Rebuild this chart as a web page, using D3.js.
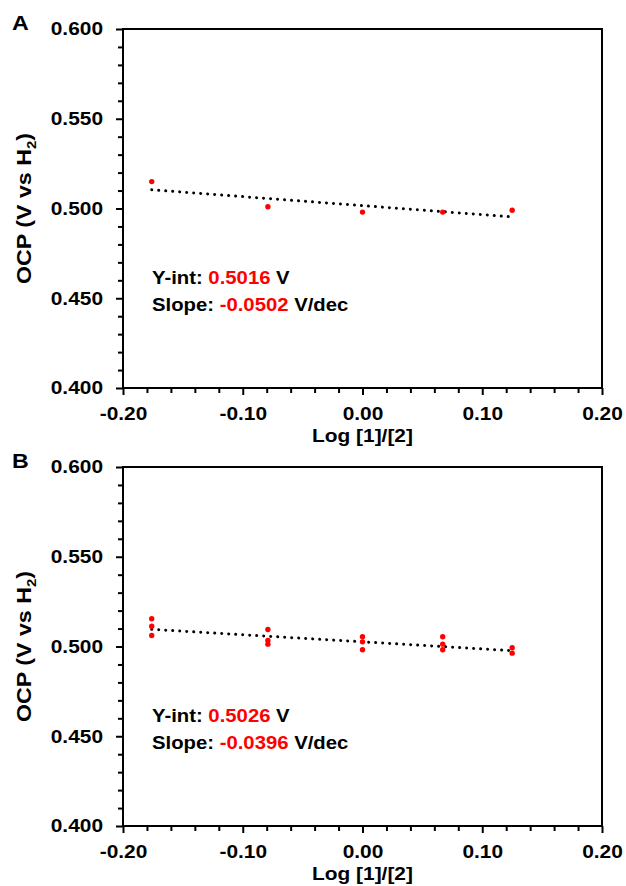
<!DOCTYPE html>
<html>
<head>
<meta charset="utf-8">
<script src="https://cdn.jsdelivr.net/npm/d3@7"></script>
<style>
body { margin: 0; background: #fff; }
text { font-family: "Liberation Sans", Arial, sans-serif; font-weight: bold; }
</style>
</head>
<body>
<script>

/* data */
var logRatioA = [-0.176, -0.079, 0.000, 0.067, 0.125];
var ocpA      = [0.515, 0.501, 0.498, 0.498, 0.499];
var fitA      = { yint: 0.5016, slope: -0.0502 };

var logRatioB = [-0.176, -0.176, -0.176, -0.079, -0.079, -0.079, 0.000, 0.000, 0.000,
                 0.067, 0.067, 0.067, 0.125, 0.125];
var ocpB      = [0.5155, 0.5113, 0.5061, 0.5095, 0.5034, 0.5013, 0.5054, 0.5026, 0.4982,
                 0.5054, 0.5013, 0.4982, 0.4993, 0.4963];
var fitB      = { yint: 0.5026, slope: -0.0396 };

var xMajor = [-0.2, -0.1, 0, 0.1, 0.2];
var yMajor = [0.400, 0.450, 0.500, 0.550, 0.600];

// plain hyphen for negatives, like the source
function fmt(p) {
  var f = d3.format("." + p + "f");
  return function(v) { return f(v).replace("\u2212", "-"); };
}

var svg = d3.select("body").append("svg")
  .attr("width", 626)
  .attr("height", 886);

function panel(letter, top, xs, ys, fit) {
  var left = 123, w = 479, h = 359;

  var x = d3.scaleLinear().domain([-0.2, 0.2]).range([left, left + w]);
  var y = d3.scaleLinear().domain([0.4, 0.6]).range([top + h, top]);

  var xMinor = d3.range(-0.2, 0.2001, 0.02).filter(function(v) {
    return Math.abs(v * 10 - Math.round(v * 10)) > 1e-6;
  });
  var yMinor = d3.range(0.4, 0.6001, 0.01).filter(function(v) {
    return Math.abs(v * 20 - Math.round(v * 20)) > 1e-6;
  });

  // minor ticks
  svg.append("g").attr("transform", "translate(0," + (top + h) + ")")
    .call(d3.axisBottom(x).tickValues(xMinor).tickSize(5).tickFormat(""))
    .call(function(g) { g.select(".domain").remove(); });
  svg.append("g").attr("transform", "translate(" + left + ",0)")
    .call(d3.axisLeft(y).tickValues(yMinor).tickSize(5).tickFormat(""))
    .call(function(g) { g.select(".domain").remove(); });

  // major ticks + labels
  var gx = svg.append("g").attr("transform", "translate(0," + (top + h) + ")")
    .call(d3.axisBottom(x).tickValues(xMajor).tickSize(7).tickPadding(12).tickFormat(fmt(2)));
  gx.select(".domain").remove();
  gx.selectAll("text").attr("class", "wide").attr("font-size", 18).attr("fill", "#000");

  var gy = svg.append("g").attr("transform", "translate(" + left + ",0)")
    .call(d3.axisLeft(y).tickValues(yMajor).tickSize(7).tickPadding(13).tickFormat(fmt(3)));
  gy.select(".domain").remove();
  gy.selectAll("text").attr("class", "wide").attr("font-size", 18).attr("fill", "#000");

  svg.selectAll(".tick line").attr("stroke", "#000").attr("stroke-width", 2);

  // frame
  svg.append("rect")
    .attr("x", left).attr("y", top)
    .attr("width", w).attr("height", h)
    .attr("fill", "none").attr("stroke", "#000").attr("stroke-width", 2);

  // dotted trendline
  var x0 = d3.min(xs), x1 = d3.max(xs);
  svg.append("line")
    .attr("x1", x(x0)).attr("y1", y(fit.yint + fit.slope * x0))
    .attr("x2", x(x1)).attr("y2", y(fit.yint + fit.slope * x1))
    .attr("stroke", "#000").attr("stroke-width", 3)
    .attr("stroke-linecap", "round").attr("stroke-dasharray", "0.01 7");

  // points
  svg.append("g").selectAll("circle")
    .data(xs.map(function(v, i) { return [v, ys[i]]; }))
    .enter().append("circle")
    .attr("cx", function(d) { return x(d[0]); })
    .attr("cy", function(d) { return y(d[1]); })
    .attr("r", 2.7)
    .attr("fill", "#ff0000");

  // panel letter
  svg.append("text").attr("class", "wide")
    .attr("x", 12).attr("y", top + 1)
    .attr("font-size", 20)
    .text(letter);

  // axis titles
  var yl = svg.append("text").attr("class", "wide")
    .attr("transform", "translate(31," + (top + h / 2) + ") rotate(-90)")
    .attr("text-anchor", "middle")
    .attr("font-size", 20);
  yl.append("tspan").text("OCP (V vs H");
  yl.append("tspan").attr("font-size", 13).attr("dy", 5).text("2");
  yl.append("tspan").attr("dy", -5).text(")");

  svg.append("text").attr("class", "wide")
    .attr("x", x(0)).attr("y", top + 413)
    .attr("text-anchor", "middle")
    .attr("font-size", 18)
    .text("Log [1]/[2]");

  // fit annotation
  var t1 = svg.append("text").attr("class", "wide")
    .attr("x", 152).attr("y", top + 255).attr("font-size", 17.5);
  t1.append("tspan").text("Y-int: ");
  t1.append("tspan").attr("fill", "#ff0000").text(fit.yint.toFixed(4));
  t1.append("tspan").text(" V");

  var t2 = svg.append("text").attr("class", "wide")
    .attr("x", 152).attr("y", top + 282).attr("font-size", 17.5);
  t2.append("tspan").text("Slope: ");
  t2.append("tspan").attr("fill", "#ff0000").text(fit.slope.toFixed(4));
  t2.append("tspan").text(" V/dec");
}

panel("A", 29, logRatioA, ocpA, fitA);
panel("B", 467, logRatioB, ocpB, fitB);

/* the source figure's type is set a little wide */
svg.selectAll("text.wide").each(function() {
  var len = this.getComputedTextLength();
  this.setAttribute("textLength", len * 1.16);
  this.setAttribute("lengthAdjust", "spacingAndGlyphs");
});

</script>
</body>
</html>
